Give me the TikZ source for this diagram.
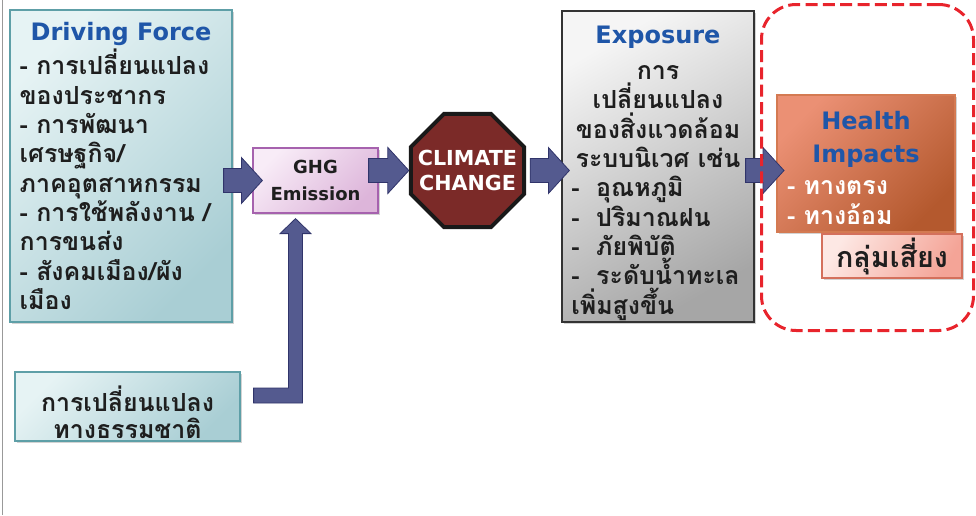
\documentclass[tikz,border=0pt]{standalone}
\usepackage{fontspec}
\setmainfont{DejaVu Sans}
\newfontfamily\thai[Script=Thai]{Loma}
\newfontfamily\headfont{DejaVu Sans}
\usetikzlibrary{shapes.geometric,calc,shadows,positioning}

\definecolor{tealedge}{HTML}{5E9FA7}
\definecolor{teallight}{HTML}{E6F3F4}
\definecolor{tealdark}{HTML}{A9CED4}
\definecolor{ghgedge}{HTML}{A662AE}
\definecolor{ghglight}{HTML}{F8ECF7}
\definecolor{ghgdark}{HTML}{DDB5DA}
\definecolor{stopred}{HTML}{7B2A28}
\definecolor{greylight}{HTML}{F5F5F5}
\definecolor{greydark}{HTML}{A6A6A6}
\definecolor{healthlight}{HTML}{EB9074}
\definecolor{healthdark}{HTML}{B4592E}
\definecolor{healthedge}{HTML}{D47A52}
\definecolor{risklight}{HTML}{FDE8E4}
\definecolor{riskdark}{HTML}{F4A497}
\definecolor{riskedge}{HTML}{D4705C}
\definecolor{titleblue}{HTML}{1F56A8}
\definecolor{inktext}{HTML}{1E1E1E}
\definecolor{arrowfill}{HTML}{545A8F}
\definecolor{arrowedge}{HTML}{30346A}
\definecolor{zonered}{HTML}{E8242C}

% text settings
\newcommand\thaitext{\thai\bfseries\fontsize{18.7}{22}\selectfont}
\newcommand\titletext[1]{{\headfont\bfseries\fontsize{18}{24}\selectfont\color{titleblue}#1}}
\newcommand\ctr[1]{\hfill#1\hfill\null}
\newcommand\topgap[1]{\rule{0pt}{#1}}

% block arrow pointing right, from #1 to the tip #2
\newcommand\flowarrow[2]{%
  \path[flow] ($(#1)+(0,-12)$) -- ($(#2)+(-21,-12)$) -- ($(#2)+(-21,-23)$) -- (#2)
    -- ($(#2)+(-21,23)$) -- ($(#2)+(-21,12)$) -- ($(#1)+(0,12)$) -- cycle;}

\begin{document}
\begin{tikzpicture}[x=0.75pt, y=-0.75pt,
    box/.style={rectangle, inner sep=0pt, line width=0.9pt,
      drop shadow={opacity=0.35, shadow xshift=1.5pt, shadow yshift=-1.5pt}},
    tealbox/.style={box, draw=tealedge, left color=teallight, right color=tealdark, shading angle=45},
    flow/.style={fill=arrowfill, draw=arrowedge, line width=0.6pt, line join=miter}]
  \useasboundingbox (0,0) rectangle (976,515);
  \draw[gray!80] (2.5,0) -- (2.5,515);

  % boxes
  \node[tealbox, minimum width=166.5pt, minimum height=234pt, text width=152pt, align=left,
    font=\thaitext, text=inktext] (drive) at (121,166) {%
    \ctr{\titletext{Driving Force}}\\[1.5pt]
    - การเปลี่ยนแปลง\\
    ของประชากร\\
    - การพัฒนา\\
    เศรษฐกิจ/\\
    ภาคอุตสาหกรรม\\
    - การใช้พลังงาน /\\
    การขนส่ง\\
    - สังคมเมือง/ผัง\\
    เมือง};
  \node[box, draw=ghgedge, left color=ghglight, right color=ghgdark, shading angle=45,
    minimum width=93.75pt, minimum height=48.75pt, align=center, text=inktext,
    font=\headfont\bfseries\fontsize{13.5}{20}\selectfont] (ghg) at (315.5,180.5) {GHG\\Emission};
  \node[regular polygon, regular polygon sides=8, minimum size=92pt, inner sep=0pt,
    fill=stopred, draw=black!90, line width=3pt,
    label={[align=center, text=white, font=\headfont\bfseries\fontsize{15.5}{19}\selectfont]center:CLIMATE\\CHANGE}]
    (climate) at (467.5,170.5) {};
  \node[box, draw=black!80, left color=greylight, right color=greydark, shading angle=30,
    minimum width=144pt, minimum height=233.25pt, text width=130pt, align=left,
    font=\thaitext, text=inktext] (exposure) at (658,166.5) {%
    \ctr{\topgap{23pt}\titletext{Exposure}}\\[5pt]
    \ctr{การ}\\
    \ctr{เปลี่ยนแปลง}\\
    \ctr{ของสิ่งแวดล้อม}\\
    \ctr{ระบบนิเวศ เช่น}\\
    -~~อุณหภูมิ\\
    -~~ปริมาณฝน\\
    -~~ภัยพิบัติ\\
    -~~ระดับน้ำทะเล\\
    เพิ่มสูงขึ้น};
  \node[box, draw=healthedge, line width=1.5pt, left color=healthlight, right color=healthdark, shading angle=45,
    minimum width=133.5pt, minimum height=102.75pt, text width=118.5pt, align=left,
    font=\thaitext, text=white] (health) at (866,163.5) {%
    \ctr{\topgap{20pt}\titletext{Health}}\\[3pt]
    \ctr{\titletext{Impacts}}\\[2pt]
    - ทางตรง\\
    - ทางอ้อม};
  \node[box, draw=riskedge, left color=risklight, right color=riskdark, shading angle=60,
    minimum width=105pt, minimum height=33pt, font=\thai\bfseries\fontsize{21.5}{22}\selectfont,
    text=inktext] (risk) at (892,256) {กลุ่มเสี่ยง};
  \node[tealbox, minimum width=168.75pt, minimum height=51.75pt, align=center,
    font=\thai\bfseries\fontsize{18.7}{20.5}\selectfont, text=inktext] (nature) at (127.5,406.5)
    {\topgap{28pt}การเปลี่ยนแปลง\\ทางธรรมชาติ};

  % arrows between the stages
  \coordinate (a1s) at ($(drive.east |- ghg.west)+(-9,0)$);
  \coordinate (a1e) at ($(ghg.west)+(10,0)$);
  \coordinate (a2s) at ($(ghg.east |- climate.center)+(-10,0)$);
  \coordinate (a2e) at (climate.west);
  \coordinate (a3s) at ($(climate.east)+(4,0)$);
  \coordinate (a3e) at ($(exposure.west |- climate.east)+(8,0)$);
  \coordinate (a4s) at ($(exposure.east |- climate.east)+(-9,0)$);
  \coordinate (a4e) at ($(health.west |- climate.east)+(8,0)$);
  \flowarrow{a1s}{a1e}
  \flowarrow{a2s}{a2e}
  \flowarrow{a3s}{a3e}
  \flowarrow{a4s}{a4e}

  % bent arrow from natural change up to GHG
  \coordinate (bend) at ($(nature.east)+(13,-11)$);
  \coordinate (uptip) at ($(ghg.south)+(-20,5)$);
  \path[flow] ($(bend)+(0,-7.5)$) -- ($(uptip |- bend)+(-7,-7.5)$) -- ($(uptip)+(-7,15)$)
    -- ($(uptip)+(-15.5,15)$) -- (uptip) -- ($(uptip)+(15.5,15)$) -- ($(uptip)+(7,15)$)
    -- ($(uptip |- bend)+(7,7.5)$) -- ($(bend)+(0,7.5)$) -- cycle;

  % impact zone
  \node[draw=zonered, line width=2.25pt, dash pattern=on 9pt off 4pt, rounded corners=26pt,
    minimum width=159pt, minimum height=244.5pt] (zone) at (867.5,167.5) {};
\end{tikzpicture}
\end{document}
